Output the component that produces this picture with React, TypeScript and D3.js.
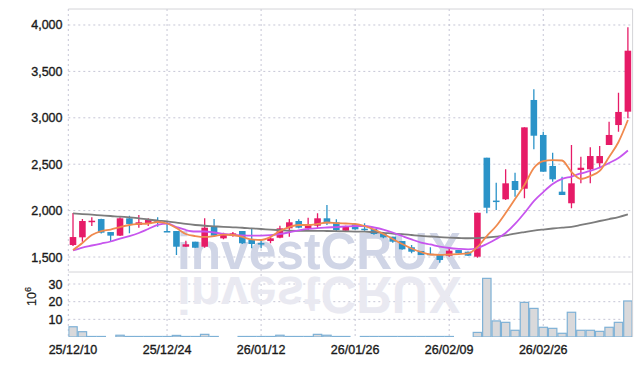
import React from "react";
import * as d3 from "d3";

const dates = [
  "25/12/10","25/12/11","25/12/12","25/12/15","25/12/16","25/12/17","25/12/18","25/12/19","25/12/22","25/12/23",
  "25/12/24","25/12/26","25/12/29","25/12/30","26/01/02","26/01/05","26/01/06","26/01/07","26/01/08","26/01/09",
  "26/01/12","26/01/13","26/01/14","26/01/15","26/01/16","26/01/19","26/01/20","26/01/21","26/01/22","26/01/23",
  "26/01/26","26/01/27","26/01/28","26/01/29","26/01/30","26/02/02","26/02/03","26/02/04","26/02/05","26/02/06",
  "26/02/09","26/02/10","26/02/11","26/02/12","26/02/13","26/02/19","26/02/20","26/02/23","26/02/24","26/02/25",
  "26/02/26","26/02/27","26/03/03","26/03/04","26/03/05","26/03/06","26/03/09","26/03/10","26/03/11","26/03/12",
];

const open = [
  1629,1712,1880,1909,1769,1730,1917,1845,1856,1888,
  1780,1780,1611,1665,1611,1826,1701,1730,1780,1683,
  1650,1672,1708,1809,1888,1809,1837,1917,1874,1783,
  1852,1805,1802,1755,1719,1672,1605,1565,1535,1529,
  1514,1575,1557,1503,2570,2108,2122,2319,2236,3192,
  2815,2481,2204,2079,2438,2445,2510,2707,2922,3066,
];
const high = [
  1974,1909,1928,1912,1770,1928,1945,1953,1917,1928,
  1880,1780,1676,1665,1917,1909,1760,1770,1780,1809,
  1683,1719,1837,1909,1906,1923,1971,2060,1906,1837,
  1855,1863,1802,1759,1719,1672,1629,1565,1605,1529,
  1605,1575,1560,1977,2570,2301,2445,2408,2897,3307,
  2850,2624,2365,2707,2581,2682,2696,2958,3270,3975,
];
const low = [
  1618,1665,1834,1753,1665,1726,1755,1816,1834,1826,
  1775,1522,1611,1600,1600,1719,1690,1718,1640,1594,
  1594,1648,1701,1719,1809,1791,1809,1845,1780,1773,
  1794,1783,1740,1701,1654,1579,1540,1522,1522,1439,
  1503,1540,1510,1492,1971,2006,2115,2150,2133,2661,
  2419,2311,2168,2025,2294,2294,2456,2707,2850,2995,
];
const close = [
  1715,1888,1891,1762,1730,1917,1856,1874,1899,1874,
  1775,1611,1637,1600,1816,1730,1748,1755,1648,1640,
  1645,1701,1809,1874,1816,1845,1917,1863,1791,1826,
  1798,1800,1748,1712,1665,1583,1557,1522,1530,1468,
  1568,1540,1514,1977,2031,2100,2294,2222,2897,2807,
  2419,2337,2168,2294,2462,2588,2588,2815,3063,3723,
];
const volume = [
  5.8,3.0,0.3,0.3,0,1.0,0.3,0.3,0.3,0.3,
  0.3,0.9,0.3,0.3,1.5,0.3,0,0,0.3,0.3,
  0.3,0.3,1.0,0.3,0.3,0.3,1.5,1.0,0.3,0.3,
  0,0.3,0.3,0.3,0.3,0.3,0.3,0.3,0.3,0.3,
  0.3,0,0,2.6,33.2,9.1,8.3,3.8,19.6,16.2,
  5.5,4.9,2.1,14.0,3.8,3.8,3.2,5.5,8.3,20.4,
];
const ma5 = [
  1575,1651,1737,1780,1796,1823,1845,1856,1861,1877,
  1861,1812,1748,1726,1716,1726,1742,1737,1716,1689,
  1683,1716,1780,1823,1845,1845,1856,1872,1866,1861,
  1856,1834,1796,1748,1694,1640,1592,1554,1527,1522,
  1527,1532,1538,1608,1726,1834,1974,2125,2276,2459,
  2534,2545,2540,2416,2341,2373,2427,2578,2739,2976,
];
const ma10 = [
  1570,1602,1624,1645,1667,1699,1726,1759,1802,1845,
  1861,1823,1791,1775,1775,1764,1748,1737,1732,1730,
  1730,1735,1748,1766,1786,1802,1812,1818,1823,1829,
  1834,1834,1818,1796,1764,1726,1689,1656,1635,1613,
  1597,1588,1583,1597,1640,1694,1759,1856,1974,2103,
  2200,2287,2341,2367,2400,2427,2464,2513,2567,2648,
];
const ma60 = [
  1971,1963,1956,1949,1942,1934,1928,1917,1904,1893,
  1883,1870,1856,1845,1837,1831,1825,1820,1815,1808,
  1802,1795,1789,1783,1782,1782,1782,1780,1778,1776,
  1774,1773,1767,1761,1753,1746,1737,1728,1721,1714,
  1709,1705,1702,1703,1710,1720,1732,1753,1769,1784,
  1796,1807,1817,1825,1845,1866,1888,1909,1931,1960,
];
const priceTicks = [1500, 2000, 2500, 3000, 3500, 4000];
const volumeTicks = [10, 20, 30];
const labelIndices = [0, 10, 20, 30, 40, 50];

const W = 642;
const H = 366;
const LEFT = 68.3;
const RIGHT = 632.6;
const TOP = 9;
const MAIN_BOTTOM = 272;
const VOL_BOTTOM = 337;

const UP = "#e61b67";
const DOWN = "#2b93c8";
const GRID = "#c6c6d6";
const FONT = "'Liberation Sans', Arial, sans-serif";
const LABEL = "#1a1a1a";

export default function App() {
  const idx = d3.range(dates.length);
  const x = d3.scaleBand<number>().domain(idx).range([LEFT, RIGHT]).padding(0);
  const step = x.step();
  const cx = (i: number) => (x(i) as number) + step / 2;
  const y = d3.scaleLinear().domain([1338.4, 4172.4]).range([MAIN_BOTTOM, TOP]);
  const yv = d3.scaleLinear().domain([0, 36.8]).range([VOL_BOTTOM, MAIN_BOTTOM]);
  const bodyW = step * 0.7;

  const line = (arr: number[]) =>
    d3
      .line<number>()
      .x((_, i) => cx(i))
      .y((d) => y(d))
      .curve(d3.curveMonotoneX)(arr) as string;

  const labelProps = {
    fontSize: 12.5,
    fill: LABEL,
    stroke: LABEL,
    strokeWidth: 0.35,
  };

  return (
    <svg
      width={W}
      height={H}
      style={{ position: "absolute", left: 0, top: 0, background: "#fff" }}
      fontFamily={FONT}
    >
      <defs>
        <clipPath id="mainClip">
          <rect x={LEFT} y={TOP} width={RIGHT - LEFT} height={MAIN_BOTTOM - TOP} />
        </clipPath>
        <clipPath id="volClip">
          <rect x={LEFT} y={MAIN_BOTTOM} width={RIGHT - LEFT} height={VOL_BOTTOM - MAIN_BOTTOM} />
        </clipPath>
      </defs>
      <rect x={0} y={0} width={W} height={H} fill="#fff" />

      {/* grid */}
      {priceTicks.map((t) => (
        <line key={"gp" + t} x1={LEFT} x2={RIGHT} y1={y(t)} y2={y(t)} stroke={GRID} strokeDasharray="2,3" />
      ))}
      {volumeTicks.map((t) => (
        <line key={"gv" + t} x1={LEFT} x2={RIGHT} y1={yv(t)} y2={yv(t)} stroke={GRID} strokeDasharray="2,3" />
      ))}
      {labelIndices.slice(1).map((i) => (
        <line key={"gx" + i} x1={cx(i)} x2={cx(i)} y1={TOP} y2={VOL_BOTTOM} stroke={GRID} strokeDasharray="2,3" />
      ))}
      <line x1={LEFT} x2={LEFT} y1={TOP} y2={VOL_BOTTOM} stroke={GRID} strokeDasharray="2,3" />

      {/* watermark */}
      <g clipPath="url(#mainClip)">
        <text x={177} y={269} fontSize={52} fontWeight="bold" fill="#d0d5e6" textLength={284} lengthAdjust="spacingAndGlyphs">
          investCRUX
        </text>
      </g>
      <g clipPath="url(#volClip)">
        <g transform={`translate(0, ${2 * MAIN_BOTTOM + 2}) scale(1,-1)`}>
          <text x={177} y={269} fontSize={52} fontWeight="bold" fill="#e9e9f1" textLength={284} lengthAdjust="spacingAndGlyphs">
            investCRUX
          </text>
        </g>
      </g>

      {/* volume bars */}
      <g clipPath="url(#volClip)">
        {volume.map((v, i) =>
          v > 0 ? (
            <rect
              key={"v" + i}
              x={(x(i) as number) + 0.5}
              y={yv(v)}
              width={step - 1}
              height={Math.max(0.01, VOL_BOTTOM - yv(v))}
              fill="#d9d9db"
              stroke="#7eb1d6"
              strokeWidth={1.2}
            />
          ) : null
        )}
      </g>

      {/* candles */}
      <g clipPath="url(#mainClip)">
        {idx.map((i) => {
          const up = close[i] >= open[i];
          const col = up ? UP : DOWN;
          const top = y(Math.max(open[i], close[i]));
          const bot = y(Math.min(open[i], close[i]));
          return (
            <g key={"c" + i}>
              <line x1={cx(i)} x2={cx(i)} y1={y(high[i])} y2={y(low[i])} stroke={col} strokeWidth={1.3} />
              <rect x={cx(i) - bodyW / 2} y={top} width={bodyW} height={Math.max(1.5, bot - top)} fill={col} />
            </g>
          );
        })}
        <path d={line(ma60)} fill="none" stroke="#7c7c7c" strokeWidth={1.8} />
        <path d={line(ma10)} fill="none" stroke="#c755ee" strokeWidth={1.8} />
        <path d={line(ma5)} fill="none" stroke="#f08a4e" strokeWidth={1.8} />
      </g>

      {/* borders */}
      <line x1={LEFT} x2={RIGHT} y1={TOP} y2={TOP} stroke="#d4d4d8" />
      <line x1={RIGHT} x2={RIGHT} y1={TOP} y2={VOL_BOTTOM} stroke="#d4d4d8" />
      <line x1={LEFT} x2={RIGHT} y1={MAIN_BOTTOM} y2={MAIN_BOTTOM} stroke="#d4d4d8" />

      {/* y labels */}
      {priceTicks.map((t) => (
        <text key={"yl" + t} x={62.5} y={y(t) + 4.5} textAnchor="end" {...labelProps}>
          {d3.format(",")(t)}
        </text>
      ))}
      {volumeTicks.map((t) => (
        <text key={"vl" + t} x={62.5} y={yv(t) + 4.5} textAnchor="end" {...labelProps}>
          {t}
        </text>
      ))}
      <text transform="translate(36, 306) rotate(-90)" {...labelProps} strokeWidth={0.2}>
        10
        <tspan dy={-5} fontSize={9}>6</tspan>
      </text>

      {/* x labels */}
      {labelIndices.map((i) => (
        <text key={"xl" + i} x={cx(i)} y={353.5} textAnchor="middle" {...labelProps}>
          {dates[i]}
        </text>
      ))}
    </svg>
  );
}
